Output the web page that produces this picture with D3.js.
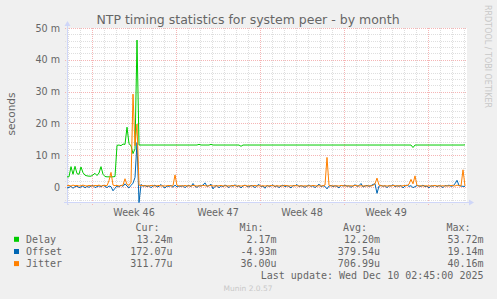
<!DOCTYPE html>
<html><head><meta charset="utf-8">
<script src="https://cdn.jsdelivr.net/npm/d3@7"></script>
<style>html,body{margin:0;padding:0;background:#f0f0f0;overflow:hidden}</style>
</head><body><div id="chart"></div>
<script>
// values in milliseconds, one sample every 4 hours
const delay = [
3.2,3.2,6.4,4.0,6.5,4.2,4.0,6.3,4.5,3.7,
3.5,3.4,3.4,3.8,4.3,3.6,4.4,6.4,4.0,3.3,
3.2,3.2,3.2,3.2,3.3,13.1,13.2,13.0,13.5,13.4,
18.8,13.6,13.0,10.5,12.0,46.2,13.2,13.2,13.2,13.2,
13.2,13.2,13.2,13.2,13.2,13.2,13.2,13.2,13.2,13.2,
13.2,13.2,13.2,13.2,13.2,13.2,13.2,13.2,13.2,13.2,
13.2,13.2,13.2,13.2,13.2,13.2,13.4,13.2,13.2,13.2,
13.2,13.2,13.4,13.2,13.2,13.2,13.2,13.2,13.2,13.2,
13.2,13.2,13.2,13.2,13.2,13.2,13.2,12.8,13.2,13.2,
13.2,13.2,13.2,13.2,13.2,13.2,13.2,13.2,13.2,13.2,
13.2,13.2,13.2,13.2,13.2,13.2,13.2,13.2,13.2,13.2,
13.2,13.2,13.2,13.2,13.2,13.2,13.2,13.2,13.2,13.2,
13.2,13.2,13.2,13.2,13.2,13.2,13.2,13.2,13.2,13.2,
13.2,13.2,13.2,13.2,13.2,13.2,13.2,13.2,13.2,13.2,
13.2,13.2,13.2,13.2,13.2,13.2,13.2,13.2,13.2,13.2,
13.2,13.2,13.2,13.2,13.2,13.2,13.2,13.2,13.2,13.2,
13.2,13.2,13.2,13.2,13.2,13.2,13.2,13.2,13.2,13.2,
13.2,13.2,13.2,12.4,13.2,13.2,13.2,13.2,13.2,13.2,
13.2,13.2,13.2,13.2,13.2,13.2,13.2,13.2,13.2,13.2,
13.2,13.2,13.2,13.2,13.2,13.2,13.2,13.2,13.2,13.24];
const offset = [
-0.3,-0.1,0.2,-0.4,0.1,0.3,-0.2,0.0,0.4,-0.3,
0.2,-0.1,0.3,0.5,-0.2,0.1,0.4,0.0,0.6,0.2,
-0.2,0.3,0.1,-1.2,-0.4,0.3,0.0,0.6,0.2,1.0,
0.3,-0.3,0.5,1.2,3.0,14.0,-4.9,0.8,0.2,0.5,
0.1,0.4,-0.2,0.3,0.6,0.0,0.2,0.8,0.1,-0.3,
0.3,0.2,0.5,-0.1,0.6,0.0,0.3,0.2,0.4,-0.2,
0.3,0.5,0.1,1.1,0.2,-0.1,0.4,0.3,0.6,1.3,
0.2,0.4,0.9,-0.6,0.2,0.5,-0.3,0.4,0.1,0.6,
0.3,-0.2,0.5,0.2,0.7,0.1,0.4,-0.3,0.3,0.6,
0.2,0.0,0.5,0.3,-0.2,0.4,0.8,0.1,0.3,-0.4,
0.5,0.2,0.3,0.7,0.0,0.4,-0.2,0.3,0.6,0.1,
0.4,0.2,-0.3,0.5,0.3,0.8,0.1,0.4,0.2,-0.1,
0.3,0.6,0.2,0.4,-0.2,0.3,0.9,0.1,0.4,0.2,
-0.6,0.3,0.5,0.1,0.4,0.2,-0.3,0.5,0.3,0.6,
0.2,0.4,-0.1,0.3,0.7,0.2,0.4,1.1,0.0,0.3,
0.5,0.2,0.4,0.8,1.0,-2.0,0.3,0.5,0.2,0.4,
-0.2,0.4,0.3,0.7,0.1,0.4,0.2,0.5,-0.3,0.3,
0.6,0.2,0.4,-0.2,0.1,0.5,0.3,0.2,0.6,0.1,
0.3,-0.3,0.4,0.2,0.5,0.1,0.4,0.3,-0.2,0.5,
0.3,0.6,0.2,0.4,1.0,2.1,0.5,0.3,0.2,0.17];
const jitter = [
0.4,0.5,0.3,0.6,0.4,0.5,0.3,0.4,0.6,0.4,
0.3,0.5,0.4,0.3,0.5,0.4,0.6,0.3,0.4,0.5,
0.4,2.0,4.6,0.6,0.4,0.5,0.3,0.4,0.6,2.6,
0.8,0.5,1.5,29.2,13.0,19.8,0.6,0.4,0.5,0.3,
0.4,0.3,0.5,0.4,0.3,0.4,0.5,0.3,0.4,0.3,
0.4,0.5,0.3,0.4,3.8,0.5,0.3,0.4,0.3,0.5,
0.3,0.4,0.3,0.5,0.4,0.3,0.4,0.3,0.5,0.4,
0.3,0.4,0.5,0.3,0.4,0.3,0.4,0.5,0.3,0.4,
0.3,0.4,0.3,0.5,0.4,0.3,0.4,0.3,0.4,0.5,
0.3,0.4,0.3,0.4,0.5,0.3,0.4,0.3,0.4,0.3,
0.4,0.3,0.5,0.4,0.3,0.4,0.3,0.4,0.3,0.5,
0.4,0.3,0.4,0.3,0.5,0.4,0.3,0.4,0.3,0.4,
0.3,0.4,0.3,0.5,0.4,0.3,0.4,0.3,0.4,0.6,
9.3,0.5,0.3,0.4,0.3,0.4,0.3,0.5,0.4,0.3,
0.4,0.3,0.4,0.3,0.5,0.4,0.3,0.4,0.3,0.4,
0.3,0.4,0.3,0.5,1.0,2.8,0.6,0.4,0.3,0.4,
0.3,0.4,0.3,0.5,0.4,0.3,0.4,0.3,0.4,0.5,
0.4,0.9,2.4,1.0,3.5,0.5,0.3,0.4,0.3,0.4,
0.3,0.4,0.3,0.4,0.5,0.3,0.4,0.3,0.4,0.3,
0.4,0.3,0.5,0.4,0.3,0.6,0.4,0.3,5.4,0.31];

const seriesNames = ["Delay", "Offset", "Jitter"];
const seriesColors = ["#00cc00", "#0066b3", "#ff8000"];
const curVals = ["13.24m", "172.07u", "311.77u"];
const minVals = ["2.17m", "-4.93m", "36.00u"];
const avgVals = ["12.20m", "379.54u", "706.99u"];
const maxVals = ["53.72m", "19.14m", "40.16m"];
const yTickValues = [0, 10, 20, 30, 40, 50];
const yTickLabels = ["0", "10 m", "20 m", "30 m", "40 m", "50 m"];
const titleText = "NTP timing statistics for system peer - by month";
const yAxisTitle = "seconds";
const lastUpdate = "Last update: Wed Dec 10 02:45:00 2025";
const footer = "Munin 2.0.57";
const sideText = "RRDTOOL / TOBI OETIKER";

const startTime = new Date(Date.UTC(2025, 10, 7, 22));
const endTime = new Date(Date.UTC(2025, 11, 11, 6));
const yMin = -4.72, yMax = 50;
const stepMs = 4 * 3600 * 1000;

const W = 497, H = 299;
const P = {left: 67, right: 467, top: 28, bottom: 202};
const FONT = "#666666";
const sans = "'DejaVu Sans', sans-serif";
const mono = "'DejaVu Sans Mono', monospace";

const svg = d3.select("#chart").append("svg").attr("width", W).attr("height", H)
  .style("display", "block");
svg.append("rect").attr("width", W).attr("height", H).attr("fill", "#f0f0f0");
svg.append("rect").attr("x", P.left).attr("y", P.top)
  .attr("width", P.right - P.left).attr("height", P.bottom - P.top).attr("fill", "#ffffff");

const x = d3.scaleUtc().domain([startTime, endTime]).range([P.left, P.right]);
const y = d3.scaleLinear().domain([yMin, yMax]).range([P.bottom, P.top]);

const grid = svg.append("g");
const minorC = "#dedede", majorC = "#f5b5b5";
const days = d3.utcDay.range(d3.utcDay.ceil(startTime), endTime);
const mondays = d3.utcMonday.range(startTime, endTime);
const isMonday = d => d.getUTCDay() === 1;
days.filter(d => !isMonday(d)).forEach(d => {
  const xx = Math.round(x(d)) + 0.5;
  grid.append("line").attr("x1", xx).attr("x2", xx).attr("y1", P.top).attr("y2", P.bottom + 3)
    .attr("stroke", minorC).attr("stroke-dasharray", "1,1");
});
const minorY = d3.range(-4, 50.1, 2).filter(v => v % 10 !== 0);
minorY.forEach(v => {
  const yy = Math.round(y(v)) + 0.5;
  grid.append("line").attr("x1", P.left - 2).attr("x2", P.right).attr("y1", yy).attr("y2", yy)
    .attr("stroke", minorC).attr("stroke-dasharray", "1,1");
});
mondays.forEach(d => {
  const xx = Math.round(x(d)) + 0.5;
  grid.append("line").attr("x1", xx).attr("x2", xx).attr("y1", P.top).attr("y2", P.bottom + 3)
    .attr("stroke", majorC).attr("stroke-dasharray", "1,1");
});
yTickValues.forEach(v => {
  const yy = Math.round(y(v)) + 0.5;
  grid.append("line").attr("x1", P.left - 2).attr("x2", P.right).attr("y1", yy).attr("y2", yy)
    .attr("stroke", majorC).attr("stroke-dasharray", "1,1");
});

// axes
const axisC = "#cfd6f8";
svg.append("line").attr("x1", P.left - 3).attr("x2", P.right + 3)
  .attr("y1", P.bottom + 0.5).attr("y2", P.bottom + 0.5).attr("stroke", axisC);
svg.append("path").attr("d", `M${P.right + 2},${P.bottom - 2.5} L${P.right + 7},${P.bottom + 0.5} L${P.right + 2},${P.bottom + 3.5} Z`).attr("fill", axisC);
svg.append("line").attr("x1", P.left + 0.5).attr("x2", P.left + 0.5)
  .attr("y1", P.bottom + 3).attr("y2", P.top - 3).attr("stroke", axisC);
svg.append("path").attr("d", `M${P.left - 2.5},${P.top - 2} L${P.left + 0.5},${P.top - 7} L${P.left + 3.5},${P.top - 2} Z`).attr("fill", axisC);

// series
const times = delay.map((_, i) => new Date(startTime.getTime() + i * stepMs));
const line = d3.line().x((d, i) => x(times[i])).y(d => y(d));
[delay, offset, jitter].forEach((s, k) => {
  svg.append("path").datum(s).attr("d", line).attr("fill", "none")
    .attr("stroke", seriesColors[k]).attr("stroke-width", 1);
});

// y labels
yTickValues.forEach((v, i) => {
  svg.append("text").attr("x", P.left - 7).attr("y", y(v) + 3.6)
    .attr("text-anchor", "end").attr("font-family", sans).attr("font-size", "9.6px")
    .attr("fill", FONT).text(yTickLabels[i]);
});
// week labels
const weekFmt = d3.utcFormat("Week %V");
mondays.forEach(d => {
  const mid = new Date(d.getTime() + 3.5 * 86400000);
  if (x(mid) > P.right) return;
  svg.append("text").attr("x", x(mid)).attr("y", 216)
    .attr("text-anchor", "middle").attr("font-family", sans).attr("font-size", "9.6px")
    .attr("fill", FONT).text(weekFmt(d));
});

// title
svg.append("text").attr("x", 248).attr("y", 23.5).attr("text-anchor", "middle")
  .attr("font-family", sans).attr("font-size", "12.5px").attr("fill", FONT).text(titleText);
// y title
svg.append("text").attr("transform", "translate(15,114) rotate(-90)").attr("text-anchor", "middle")
  .attr("font-family", sans).attr("font-size", "10.5px").attr("fill", FONT).text(yAxisTitle);
// side text
svg.append("text").attr("transform", "translate(485,5) rotate(90)").attr("text-anchor", "start")
  .attr("font-family", sans).attr("font-size", "8px").attr("fill", "#c8c8c8").text(sideText);

// legend
const leg = svg.append("g").attr("font-family", mono).attr("font-size", "10px").attr("fill", FONT);
const hdrY = 227.7, rowY = [239.3, 251.5, 263.6];
const colHdrX = [159.5, 263.5, 367, 470.5];
const colValX = [172.5, 276.5, 380, 483.5];
["Cur:", "Min:", "Avg:", "Max:"].forEach((h, i) => {
  leg.append("text").attr("x", colHdrX[i]).attr("y", hdrY + 3.6).attr("text-anchor", "end").text(h);
});
seriesNames.forEach((n, k) => {
  svg.append("rect").attr("x", 14).attr("y", rowY[k] - 2.5).attr("width", 5).attr("height", 5)
    .attr("fill", seriesColors[k]);
  leg.append("text").attr("x", 26).attr("y", rowY[k] + 3.6).text(n);
  [curVals, minVals, avgVals, maxVals].forEach((arr, i) => {
    leg.append("text").attr("x", colValX[i]).attr("y", rowY[k] + 3.6).attr("text-anchor", "end").text(arr[k]);
  });
});
leg.append("text").attr("x", 483.5).attr("y", 275.7 + 3.6).attr("text-anchor", "end").text(lastUpdate);
svg.append("text").attr("x", 248).attr("y", 290.5).attr("text-anchor", "middle")
  .attr("font-family", sans).attr("font-size", "7.5px").attr("fill", "#c8c8c8").text(footer);
</script>
</body></html>
